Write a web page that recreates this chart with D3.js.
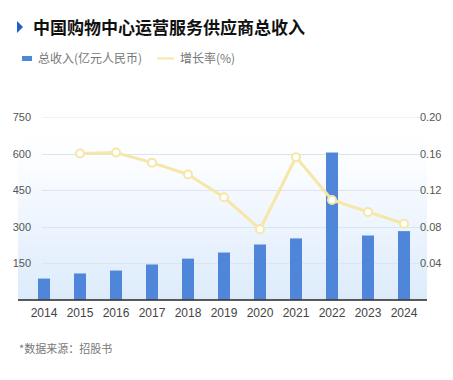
<!DOCTYPE html>
<html><head><meta charset="utf-8">
<script src="https://cdn.jsdelivr.net/npm/d3@7"></script>
<style>
html,body{margin:0;padding:0;background:#fff;}
svg{display:block;font-family:"Noto Sans CJK SC","Noto Sans",sans-serif;}
</style></head>
<body><svg id="c" width="453" height="380"></svg>
<script>
const years = ["2014","2015","2016","2017","2018","2019","2020","2021","2022","2023","2024"];
const revenue = [86, 107, 119, 144, 168, 193, 226, 251, 604, 263, 281];
const growthYears = ["2015","2016","2017","2018","2019","2020","2021","2022","2023","2024"];
const growth = [0.160, 0.161, 0.150, 0.137, 0.112, 0.077, 0.156, 0.109, 0.096, 0.083];
const leftTicks = [150, 300, 450, 600, 750];
const rightTicks = [0.04, 0.08, 0.12, 0.16, 0.20];

const svg = d3.select("#c");
const plotTop = 117, plotBottom = 299.5;
const x = d3.scaleBand().domain(years).range([26, 422]).padding(0);
const yL = d3.scaleLinear().domain([0, 750]).range([plotBottom, plotTop]);
const yR = d3.scaleLinear().domain([0, 0.20]).range([plotBottom, plotTop]);

// title
svg.append("path").attr("d","M17,21 L23,27 L17,33 Z").attr("fill","#1f5fc8");
svg.append("text").attr("x",33).attr("y",34).attr("font-size",17.5).attr("font-weight","bold")
  .attr("textLength",272).attr("lengthAdjust","spacingAndGlyphs")
  .attr("fill","#111").text("中国购物中心运营服务供应商总收入");

// legend
svg.append("rect").attr("x",22).attr("y",56).attr("width",10).attr("height",5).attr("fill","#4f86d9");
svg.append("text").attr("x",38).attr("y",63).attr("font-size",12).attr("fill","#777").text("总收入(亿元人民币)");
svg.append("line").attr("x1",157).attr("x2",174).attr("y1",58.5).attr("y2",58.5).attr("stroke","#f6e7a6").attr("stroke-width",2);
svg.append("text").attr("x",180).attr("y",63).attr("font-size",12).attr("fill","#777").text("增长率(%)");

// gradient background
const defs = svg.append("defs");
const g = defs.append("linearGradient").attr("id","bg").attr("x1",0).attr("x2",0).attr("y1",0).attr("y2",1);
g.append("stop").attr("offset","0%").attr("stop-color","#ffffff").attr("stop-opacity",0);
g.append("stop").attr("offset","40%").attr("stop-color","#f5f9ff").attr("stop-opacity",1);
g.append("stop").attr("offset","100%").attr("stop-color","#dcebfb").attr("stop-opacity",1);
svg.append("rect").attr("x",18).attr("y",plotTop).attr("width",409).attr("height",plotBottom-plotTop).attr("fill","url(#bg)");

// gridlines
svg.append("g").selectAll("line").data(leftTicks).join("line")
  .attr("x1",42).attr("x2",420)
  .attr("y1",d=>Math.round(yL(d))+0.5).attr("y2",d=>Math.round(yL(d))+0.5)
  .attr("stroke",d=>d===750?"#eef1f5":"#dbe5f0").attr("stroke-width",1);

// left axis labels
svg.append("g").selectAll("text").data(leftTicks).join("text")
  .attr("x",31).attr("y",d=>yL(d)+4).attr("text-anchor","end")
  .attr("font-size",11).attr("fill","#555").attr("font-family","Liberation Sans, Arial, sans-serif")
  .text(d=>d);
// right axis labels
svg.append("g").selectAll("text").data(rightTicks).join("text")
  .attr("x",420).attr("y",d=>yR(d)+4)
  .attr("font-size",11).attr("fill","#555").attr("font-family","Liberation Sans, Arial, sans-serif")
  .text(d=>d.toFixed(2));

// bars
svg.append("g").selectAll("rect").data(years).join("rect")
  .attr("x",(d)=>x(d)+x.bandwidth()/2-6).attr("width",12)
  .attr("y",(d,i)=>yL(revenue[i])).attr("height",(d,i)=>plotBottom-yL(revenue[i]))
  .attr("fill","#4f86d9");

// baseline
svg.append("line").attr("x1",18).attr("x2",427).attr("y1",plotBottom+0.5).attr("y2",plotBottom+0.5)
  .attr("stroke","#222").attr("stroke-width",1.5);

// x labels
svg.append("g").selectAll("text").data(years).join("text")
  .attr("x",d=>x(d)+x.bandwidth()/2).attr("y",317).attr("text-anchor","middle")
  .attr("font-size",12).attr("fill","#444").attr("font-family","Liberation Sans, Arial, sans-serif")
  .text(d=>d);

// line
const pts = growthYears.map((yr,i)=>[x(yr)+x.bandwidth()/2, yR(growth[i])]);
svg.append("path").attr("d",d3.line()(pts)).attr("fill","none")
  .attr("stroke","#f6e7a6").attr("stroke-width",3).attr("stroke-linejoin","round");
svg.append("g").selectAll("circle").data(pts).join("circle")
  .attr("cx",d=>d[0]).attr("cy",d=>d[1]).attr("r",4)
  .attr("fill","#fff").attr("stroke","#f6e7a6").attr("stroke-width",2);

// source
svg.append("text").attr("x",19).attr("y",353).attr("font-size",11).attr("fill","#777").text("*数据来源：招股书");
</script></body></html>
